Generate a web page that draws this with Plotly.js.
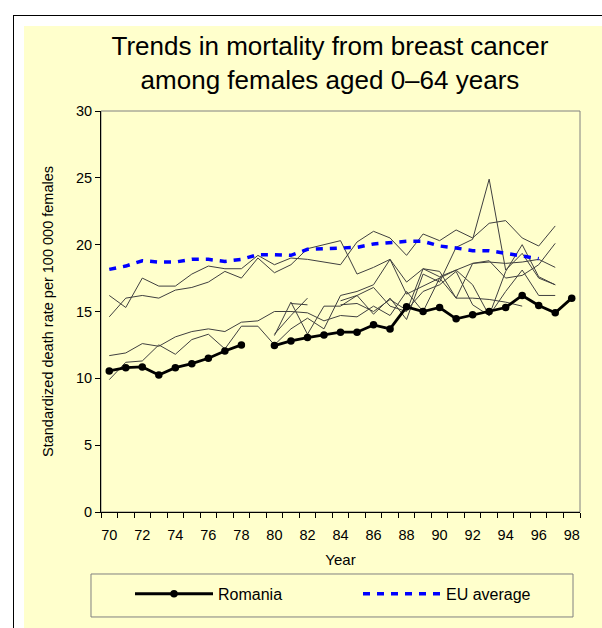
<!DOCTYPE html>
<html>
<head>
<meta charset="utf-8">
<script src="https://cdn.plot.ly/plotly-3.0.1.min.js"></script>
<style>
  html, body { margin: 0; padding: 0; background: #ffffff; width: 602px; height: 628px; overflow: hidden; }
  #frame { position: absolute; left: 13px; top: 15px; width: 600px; height: 620px; border-top: 1px solid #000; border-left: 1px solid #000; }
  #chart { position: absolute; left: 24px; top: 26px; width: 578px; height: 602px; }
</style>
</head>
<body>
<div id="frame"></div>
<div id="chart"></div>
<script>
// ---- data ----
const years = [70,71,72,73,74,75,76,77,78,79,80,81,82,83,84,85,86,87,88,89,90,91,92,93,94,95,96,97,98];
const tickYears = [70,72,74,76,78,80,82,84,86,88,90,92,94,96,98];
const tickLabels = ['70','72','74','76','78','80','82','84','86','88','90','92','94','96','98'];
const yTicks = [0,5,10,15,20,25,30];

const romania = [10.55,10.8,10.85,10.25,10.8,11.1,11.5,12.05,12.5,null,12.45,12.8,13.05,13.25,13.45,13.45,14.0,13.7,15.35,15.0,15.3,14.45,14.75,15.0,15.3,16.2,15.45,14.9,16.0];
const euAverage = [18.15,18.4,18.8,18.7,18.7,18.9,18.9,18.75,18.9,19.25,19.25,19.2,19.65,19.7,19.8,19.8,20.05,20.15,20.25,20.25,19.9,19.75,19.55,19.55,19.35,19.2,18.95,null,null];

const country1 = [14.6,16.0,16.2,16.0,16.6,16.8,17.2,18.0,17.5,19.0,17.9,18.5,19.7,20.0,20.3,17.8,18.3,18.9,17.2,18.2,17.6,18.1,18.6,18.7,18.6,18.7,18.9,18.3,null];
const country2 = [16.2,15.3,17.5,16.9,16.9,17.8,18.4,18.2,18.2,19.2,18.5,19.0,18.9,18.7,18.5,20.2,21.0,20.5,19.2,20.8,20.3,21.1,20.5,21.6,21.8,20.5,19.9,21.4,null];
const country3 = [11.7,11.9,12.6,12.4,13.1,13.5,13.7,13.5,14.2,14.3,15.0,15.0,14.9,14.3,14.7,14.6,15.4,14.7,16.5,15.0,17.5,16.0,16.0,15.9,15.7,15.4,null,null,null];
const country4 = [9.9,11.2,11.3,12.5,11.8,12.9,13.3,12.2,13.9,13.9,12.5,13.7,14.5,13.7,16.2,16.5,17.0,18.9,16.3,16.9,17.5,18.1,17.0,14.7,18.0,20.0,17.6,17.0,null];
const country5 = [null,null,null,null,null,null,null,null,null,null,13.2,15.7,13.3,15.4,15.4,16.2,16.8,15.4,15.0,18.2,18.0,16.0,18.6,18.8,17.5,17.7,18.5,20.1,null];
const country6 = [null,null,null,null,null,null,null,null,null,null,13.3,14.7,16.0,null,null,null,null,null,null,null,null,null,null,null,null,null,null,null,null];
const country7 = [null,null,null,null,null,null,null,null,null,null,null,15.6,15.5,null,null,null,null,null,null,null,null,null,null,null,null,null,null,null,null];
const country8 = [null,null,null,null,null,null,null,null,null,null,null,null,null,null,15.8,16.2,14.8,16.0,14.4,17.8,17.2,19.8,20.4,24.9,18.1,19.35,17.5,17.0,null];
const country9 = [null,null,null,null,null,null,null,null,null,null,null,null,null,null,15.5,15.6,15.0,15.9,15.1,16.5,17.0,18.0,15.5,14.7,16.5,18.1,16.2,16.2,null];

const others = [country1,country2,country3,country4,country5,country6,country7,country8,country9];

// ---- traces ----
const traces = [];
others.forEach(function (vals) {
  traces.push({
    x: years, y: vals, type: 'scatter', mode: 'lines',
    line: {color: '#404040', width: 1},
    connectgaps: false, showlegend: false, hoverinfo: 'skip'
  });
});
traces.push({
  x: years, y: romania, type: 'scatter', mode: 'lines+markers', name: 'Romania',
  line: {color: '#000000', width: 2.8},
  marker: {symbol: 'circle', size: 7.5, color: '#000000'},
  connectgaps: false
});
traces.push({
  x: years, y: euAverage, type: 'scatter', mode: 'lines', name: 'EU average',
  line: {color: '#0000FF', width: 3.5, dash: '7px,7px'},
  connectgaps: false
});

const FONT = 'Liberation Sans, Arial, sans-serif';
const YELLOW = '#FFFFCC';

const layout = {
  width: 578, height: 602,
  margin: {l: 77, r: 22, t: 85, b: 116, autoexpand: false},
  paper_bgcolor: YELLOW, plot_bgcolor: YELLOW,
  font: {family: FONT, size: 14, color: '#000'},
  title: {
    text: 'Trends in mortality from breast cancer<br>among females aged 0–64 years',
    font: {family: FONT, size: 26, color: '#000'},
    x: 0.478, xref: 'paper', xanchor: 'center',
    y: 0.951, yref: 'container', yanchor: 'top'
  },
  xaxis: {
    range: [69.5, 98.5], fixedrange: true,
    tickmode: 'array', tickvals: tickYears, ticktext: tickLabels,
    ticks: '', ticklabelstandoff: 10,
    minor: {tick0: 69.5, dtick: 1, ticks: 'outside', ticklen: 5, tickcolor: '#000', tickwidth: 1, showgrid: false},
    showgrid: false, zeroline: false,
    showline: true, linecolor: '#000', linewidth: 1,
    tickfont: {family: FONT, size: 14.5, color: '#000'},
    title: {text: 'Year', font: {family: FONT, size: 15, color: '#000'}, standoff: 12}
  },
  yaxis: {
    range: [0, 30], fixedrange: true,
    tickmode: 'array', tickvals: yTicks,
    ticks: 'outside', ticklen: 5, tickcolor: '#000', tickwidth: 1,
    showgrid: false, zeroline: false,
    showline: true, linecolor: '#000', linewidth: 1,
    tickfont: {family: FONT, size: 14.5, color: '#000'},
    title: {text: 'Standardized death rate per 100 000 females', font: {family: FONT, size: 14.5, color: '#000'}, standoff: 18}
  },
  shapes: [
    // plot-area frame (grey top/right; axes lines drawn over left/bottom)
    {type: 'rect', xref: 'paper', yref: 'paper', x0: 0, x1: 1, y0: 0, y1: 1,
     line: {color: '#808080', width: 1}, fillcolor: 'rgba(0,0,0,0)', layer: 'below'},
    // legend box
    {type: 'rect', xref: 'paper', yref: 'paper', x0: -0.0209, x1: 0.9854, y0: -0.2618, y1: -0.1546,
     line: {color: '#808080', width: 1}, fillcolor: 'rgba(0,0,0,0)', layer: 'above'}
  ],
  showlegend: true,
  legend: {
    orientation: 'h', xref: 'container', x: 0.1834, xanchor: 'left',
    yref: 'container', y: 0.085, yanchor: 'top',
    bgcolor: 'rgba(0,0,0,0)', borderwidth: 0,
    font: {family: FONT, size: 16, color: '#000'},
    entrywidth: 135, itemwidth: 78, traceorder: 'normal'
  }
};

Plotly.newPlot('chart', traces, layout, {staticPlot: true, displayModeBar: false});
</script>
</body>
</html>
